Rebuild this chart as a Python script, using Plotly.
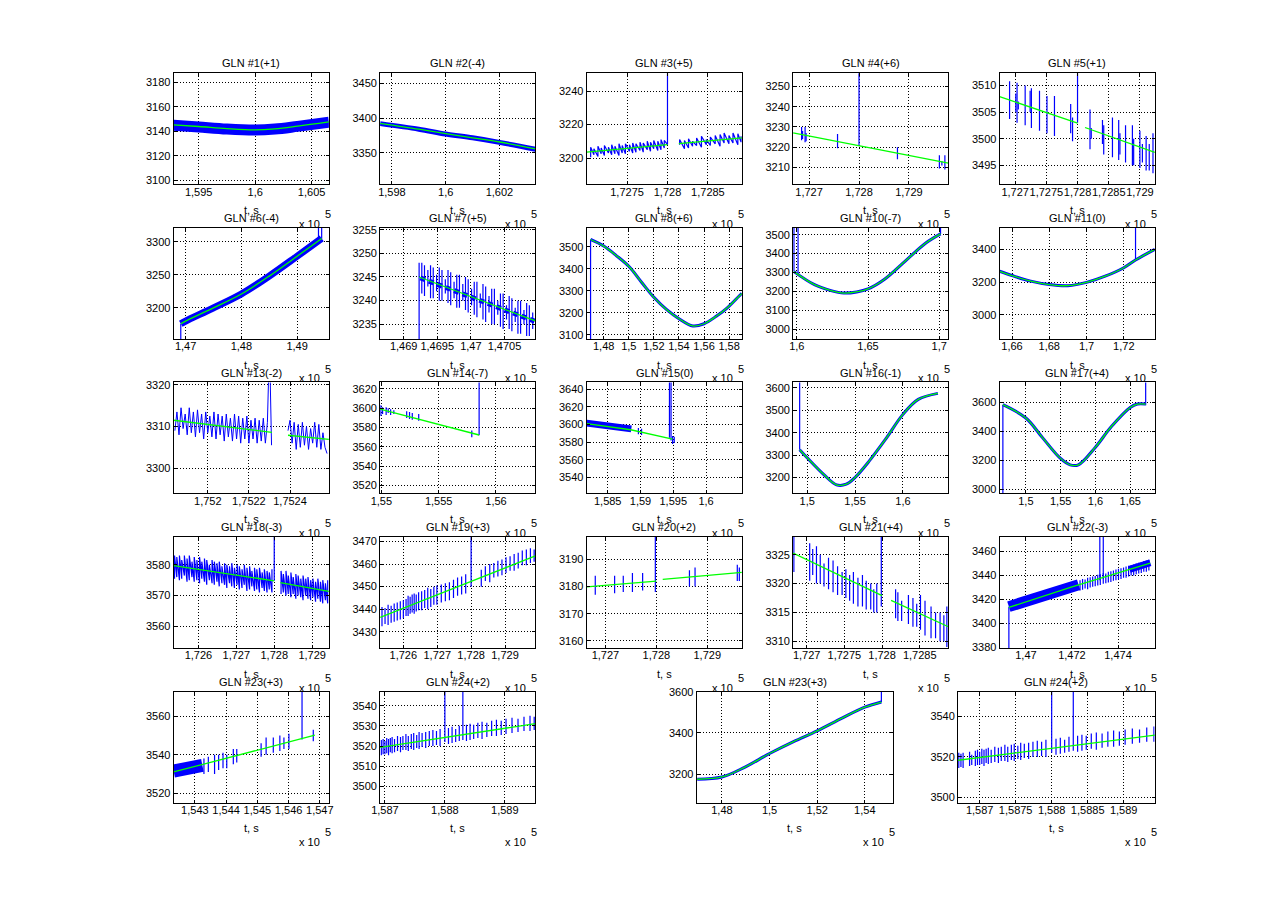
import plotly.graph_objects as go

# GLONASS pseudo-range style residual panels, t in seconds

BLUE = "#0000ff"
GREEN = "#00ff00"
FONT = "Liberation Sans"
PAGE_W, PAGE_H = 1280, 906
BODY_MARGIN = 8            # browser default body margin around the plot div
W, H = PAGE_W - 2 * BODY_MARGIN, PAGE_H - 2 * BODY_MARGIN

TITLES = ["GLN #1(+1)", "GLN #2(-4)", "GLN #3(+5)", "GLN #4(+6)", "GLN #5(+1)",
          "GLN #6(-4)", "GLN #7(+5)", "GLN #8(+6)", "GLN #10(-7)", "GLN #11(0)",
          "GLN #13(-2)", "GLN #14(-7)", "GLN #15(0)", "GLN #16(-1)", "GLN #17(+4)",
          "GLN #18(-3)", "GLN #19(+3)", "GLN #20(+2)", "GLN #21(+4)", "GLN #22(-3)",
          "GLN #23(+3)", "GLN #24(+2)", "GLN #23(+3)", "GLN #24(+2)"]

# ---- GLN #1(+1)
P1_XR = [159278, 160653]
P1_XT = [159500, 160000, 160500]
P1_YR = [3096.5, 3187.5]
P1_YT = [3100, 3120, 3140, 3160, 3180]
P1_OBS_T = [159278, 159500, 159750, 160000, 160175, 160375, 160653]
P1_OBS_Y = [3145.0, 3143.5, 3141.8, 3141.0, 3141.8, 3144.0, 3147.4]
P1_FIT_T = [159278, 159500, 159750, 160000, 160175, 160375, 160653]
P1_FIT_Y = [3145.2, 3143.9, 3142.2, 3141.2, 3142.0, 3144.2, 3147.7]

# ---- GLN #2(-4)
P2_XR = [159756, 160334]
P2_XT = [159800, 160000, 160200]
P2_YR = [3304.4, 3464.6]
P2_YT = [3350, 3400, 3450]
P2_OBS_T = [159756, 159900, 160000, 160100, 160200, 160334]
P2_OBS_Y = [3392.0, 3384.0, 3377.0, 3371.5, 3365.0, 3355.0]
P2_FIT_T = [159756, 159900, 160000, 160100, 160200, 160334]
P2_FIT_Y = [3392.5, 3384.0, 3377.5, 3371.5, 3365.5, 3355.6]

# ---- GLN #3(+5)
P3_XR = [172700, 172892]
P3_XT = [172750, 172800, 172850]
P3_YR = [3184.3, 3250.6]
P3_YT = [3200, 3220, 3240]
P3_Z1_T = [172705, 172709, 172714, 172718, 172722, 172727, 172731, 172735, 172740, 172744, 172748,
           172753, 172757, 172761, 172766, 172770, 172775, 172779, 172783, 172788, 172792, 172796, 172800]
P3_Z1_LO = [3200.5, 3202, 3201, 3202.5, 3201.5, 3203, 3202, 3202.5, 3201.5, 3203, 3202.5,
            3204, 3203, 3203.5, 3204.5, 3203.5, 3205, 3204, 3205.5, 3204.5, 3205, 3206, 3208]
P3_Z1_HI = [3206.5, 3205.5, 3207, 3206, 3207.5, 3206.5, 3208, 3207, 3208.5, 3207.5, 3208.5,
            3208, 3209, 3208.5, 3209.5, 3209, 3210, 3209.5, 3210.5, 3210, 3211, 3210.5, 3260]
P3_Z2_T = [172815, 172821, 172826, 172831, 172836, 172842, 172848, 172853, 172859, 172865, 172870,
           172876, 172881, 172887, 172891]
P3_Z2_LO = [3208, 3205.5, 3206, 3207, 3207.5, 3206.5, 3208, 3207.5, 3208.5, 3207, 3209, 3208.5, 3209, 3208, 3209.5]
P3_Z2_HI = [3211, 3210.5, 3211.5, 3210, 3212, 3213, 3211, 3212.5, 3213.5, 3214, 3215, 3213.5, 3215, 3214.5, 3213]
P3_FIT_T = [172700, 172800, None, 172814, 172892]
P3_FIT_Y = [3203.5, 3208.0, None, 3208.6, 3212.1]

# ---- GLN #4(+6)
P4_XR = [172668, 172979]
P4_XT = [172700, 172800, 172900]
P4_YR = [3201.6, 3256.6]
P4_YT = [3210, 3220, 3230, 3240, 3250]
P4_SPK_T = [172685, 172687, 172692, 172694, 172757, 172800, 172877, 172961, 172966, 172972]
P4_SPK_LO = [3223.5, 3224, 3222.5, 3223, 3219.5, 3221, 3214, 3209.5, 3211, 3209]
P4_SPK_HI = [3230, 3228, 3230, 3227, 3226.5, 3300, 3220, 3216, 3213, 3216]
P4_FIT_T = [172668, 172979]
P4_FIT_Y = [3227.1, 3212.1]

# ---- GLN #5(+1)
P5_XR = [172675, 172924]
P5_XT = [172700, 172750, 172800, 172850, 172900]
P5_YR = [3491.4, 3512.3]
P5_YT = [3495, 3500, 3505, 3510]
P5_SPK_T = [172691, 172701, 172703, 172705, 172716, 172724, 172726, 172739, 172751, 172763, 172789,
            172792, 172800, 172820, 172822, 172840, 172842, 172856, 172866, 172868, 172877, 172888,
            172890, 172900, 172904, 172910, 172915, 172921]
P5_SPK_LO = [3503.7, 3505, 3503, 3505.5, 3502.5, 3505, 3502, 3501.5, 3501, 3500.5, 3501,
             3499.5, 3503, 3498, 3500, 3499, 3497, 3496.5, 3496, 3497, 3495.5, 3495,
             3495, 3494.5, 3495.5, 3494, 3494, 3493.5]
P5_SPK_HI = [3510.8, 3508.5, 3510.5, 3507, 3510, 3509, 3509.5, 3509, 3508, 3508, 3506.5,
             3504, 3515, 3505.5, 3502, 3503.5, 3502.5, 3504, 3503.5, 3501, 3502.5, 3502.5,
             3500, 3501.5, 3499, 3500.5, 3499, 3501]
P5_FIT_T = [172675, 172800, None, 172812, 172924]
P5_FIT_Y = [3507.9, 3502.9, None, 3502.1, 3497.4]

# ---- GLN #6(-4)
P6_XR = [146785, 149571]
P6_XT = [147000, 148000, 149000]
P6_YR = [3153, 3321]
P6_YT = [3200, 3250, 3300]
P6_FIT_T = [146913, 147000, 147500, 148000, 148500, 149000, 149441]
P6_FIT_Y = [3176, 3180, 3200, 3221, 3248, 3278, 3305]
P6_SPK_T = [146913, 149384, 149441]
P6_SPK_LO = [3140, 3300, 3304]
P6_SPK_HI = [3176, 3340, 3340]

# ---- GLN #7(+5)
P7_XR = [146865, 147096]
P7_XT = [146900, 146950, 147000, 147050]
P7_YR = [3231.9, 3255.4]
P7_YT = [3235, 3240, 3245, 3250, 3255]
P7_SPK_T = [146923, 146927, 146931, 146936, 146940, 146944, 146949, 146953, 146957, 146962, 146966,
            146970, 146975, 146979, 146983, 146988, 146992, 146996, 147001, 147005, 147009, 147014,
            147018, 147022, 147027, 147031, 147035, 147040, 147044, 147048, 147053, 147057, 147061,
            147066, 147070, 147074, 147079, 147083, 147087, 147092]
P7_SPK_LO = [3225.0, 3241.5, 3241.0, 3243.0, 3240.5, 3240.5, 3242.0, 3240.0, 3240.0, 3241.5, 3239.5,
             3239.0, 3240.5, 3238.5, 3238.5, 3240.0, 3238.0, 3237.5, 3239.0, 3237.0, 3236.5, 3238.5,
             3236.0, 3235.5, 3237.5, 3235.0, 3235.0, 3237.0, 3234.5, 3234.0, 3236.0, 3234.0, 3233.5,
             3235.5, 3233.0, 3233.0, 3235.0, 3232.5, 3232.5, 3234.0]
P7_SPK_HI = [3248.0, 3248.0, 3247.5, 3246.5, 3247.5, 3247.0, 3245.5, 3247.0, 3246.5, 3244.5, 3246.5,
             3246.0, 3244.0, 3245.5, 3245.5, 3243.5, 3245.0, 3244.5, 3242.5, 3244.0, 3244.0, 3241.5,
             3243.5, 3243.0, 3241.0, 3242.5, 3242.5, 3240.0, 3241.5, 3241.5, 3239.0, 3241.0, 3240.5,
             3238.5, 3240.0, 3240.0, 3238.0, 3239.5, 3239.0, 3237.5]
P7_OBS_T = [146925, 147096]
P7_OBS_Y = [3244.8, 3235.6]
P7_FIT_T = [146923, 147096]
P7_FIT_Y = [3245.0, 3235.7]

# ---- GLN #8(+6)
P8_XR = [146638, 159017]
P8_XT = [148000, 150000, 152000, 154000, 156000, 158000]
P8_YR = [3081, 3586]
P8_YT = [3100, 3200, 3300, 3400, 3500]
P8_FIT_T = [146953, 148000, 149000, 150000, 151000, 152000, 153000, 154000, 155100, 156000, 157000,
            157900, 158800, 159017]
P8_FIT_Y = [3533, 3503, 3460, 3411, 3340, 3270, 3215, 3173, 3140, 3150, 3185, 3225, 3276, 3288]
P8_SPK_T = [146953]
P8_SPK_LO = [3050]
P8_SPK_HI = [3533]

# ---- GLN #10(-7)
P10_XR = [159740, 170640]
P10_XT = [160000, 165000, 170000]
P10_YR = [2950, 3536]
P10_YT = [3000, 3100, 3200, 3300, 3400, 3500]
P10_FIT_T = [159800, 161240, 162400, 163300, 164200, 165000, 166160, 167630, 169080, 170090]
P10_FIT_Y = [3305, 3236, 3205, 3192, 3198, 3214, 3265, 3362, 3457, 3504]
P10_SPK_T = [159800, 160087, 170090]
P10_SPK_LO = [3305, 3296, 3504]
P10_SPK_HI = [3700, 3700, 3700]

# ---- GLN #11(0)
P11_XR = [165333, 173667]
P11_XT = [166000, 168000, 170000, 172000]
P11_YR = [2852, 3532]
P11_YT = [3000, 3200, 3400]
P11_FIT_T = [165333, 166000, 167000, 168000, 169000, 170000, 171000, 172000, 172630, 173667]
P11_FIT_Y = [3266, 3240, 3206, 3185, 3178, 3198, 3236, 3288, 3335, 3400]
P11_SPK_T = [172630]
P11_SPK_LO = [3335]
P11_SPK_HI = [3700]

# ---- GLN #13(-2)
P13_XR = [175183.4, 175258.9]
P13_XT = [175200, 175220, 175240]
P13_YR = [3293.9, 3320.6]
P13_YT = [3300, 3310, 3320]
P13_RAW1_T = [175184, 175185, 175186, 175187, 175188, 175189, 175190, 175191, 175192, 175193, 175194,
              175195, 175196, 175197, 175198, 175199, 175200, 175201, 175202, 175203, 175204, 175205,
              175206, 175207, 175208, 175209, 175210, 175211, 175212, 175213, 175214, 175215, 175216,
              175217, 175218, 175219, 175220, 175221, 175222, 175223, 175224, 175225, 175226, 175227,
              175228, 175229, 175230, 175231]
P13_RAW1_Y = [3309.0, 3313.5, 3308.0, 3314.5, 3309.5, 3313.0, 3308.0, 3314.5, 3308.5, 3313.5, 3307.5,
              3314.0, 3308.5, 3313.0, 3307.0, 3313.5, 3308.5, 3312.5, 3307.5, 3313.5, 3307.0, 3313.0,
              3308.0, 3312.5, 3306.5, 3313.0, 3307.5, 3312.0, 3306.5, 3313.0, 3307.0, 3312.5, 3306.0,
              3312.0, 3307.0, 3312.5, 3306.0, 3311.5, 3307.0, 3312.0, 3306.0, 3311.5, 3306.5, 3312.0,
              3306.0, 3311.0, 3330.0, 3305.5]
P13_RAW2_T = [175239, 175240, 175241, 175242, 175243, 175244, 175245, 175246, 175247, 175248, 175249,
              175250, 175251, 175252, 175253, 175254, 175255, 175256, 175257, 175258]
P13_RAW2_Y = [3309.0, 3311.5, 3306.0, 3311.0, 3304.5, 3310.5, 3305.0, 3311.0, 3305.5, 3310.0, 3304.5,
              3309.5, 3306.0, 3311.0, 3305.0, 3310.5, 3304.5, 3308.5, 3305.0, 3303.5]
P13_FIT_T = [175183.4, 175231.2, None, 175239.0, 175258.9]
P13_FIT_Y = [3311.5, 3308.6, None, 3307.9, 3306.9]

# ---- GLN #14(-7)
P14_XR = [154989.5, 156343.9]
P14_XT = [155000, 155500, 156000]
P14_YR = [3511.7, 3626.8]
P14_YT = [3520, 3540, 3560, 3580, 3600, 3620]
P14_SPK_T = [154996, 155011, 155042, 155060, 155081, 155109, 155221, 155246, 155270, 155326, 155789, 155853]
P14_SPK_LO = [3592, 3594, 3593, 3595, 3593, 3594, 3590, 3589, 3588, 3587, 3570, 3572]
P14_SPK_HI = [3603, 3601, 3601, 3600, 3599, 3598, 3597, 3596, 3595, 3594, 3577, 3700]
P14_FIT_T = [154989.5, 155852.6]
P14_FIT_Y = [3599.0, 3572.3]

# ---- GLN #15(0)
P15_XR = [158178, 160547]
P15_XT = [158500, 159000, 159500, 160000]
P15_YR = [3522, 3647.5]
P15_YT = [3540, 3560, 3580, 3600, 3620, 3640]
P15_OBS_T = [158178, 158860]
P15_OBS_Y = [3601.5, 3595.0]
P15_SPK_T = [158968, 159016, 159442, 159466, 159490, 159515]
P15_SPK_LO = [3589, 3588, 3585, 3582, 3578, 3579]
P15_SPK_HI = [3596, 3595, 3700, 3700, 3587, 3586]
P15_FIT_T = [158178, 158850, 159488]
P15_FIT_Y = [3601.0, 3594.0, 3583.4]

# ---- GLN #16(-1)
P16_XR = [148532, 164744]
P16_XT = [150000, 155000, 160000]
P16_YR = [3128.4, 3625]
P16_YT = [3200, 3300, 3400, 3500, 3600]
P16_FIT_T = [149215, 150000, 151710, 153070, 154080, 155000, 156470, 158170, 160000, 161600, 163650]
P16_FIT_Y = [3324, 3288, 3214, 3167, 3170, 3200, 3273, 3370, 3482, 3549, 3576]
P16_SPK_T = [149215]
P16_SPK_LO = [3324]
P16_SPK_HI = [3700]

# ---- GLN #17(+4)
P17_XR = [146226, 168538]
P17_XT = [150000, 155000, 160000, 165000]
P17_YR = [2970, 3738]
P17_YT = [3000, 3200, 3400, 3600]
P17_FIT_T = [146698, 150000, 152358, 154858, 156368, 157547, 160000, 162264, 165000, 166038, 167217]
P17_FIT_Y = [3584, 3492, 3358, 3218, 3168, 3168, 3290, 3431, 3565, 3588, 3588]
P17_SPK_T = [146698, 167217]
P17_SPK_LO = [2900, 3580]
P17_SPK_HI = [3584, 3800]

# ---- GLN #18(-3)
P18_XR = [172534.7, 172944.2]
P18_XT = [172600, 172700, 172800, 172900]
P18_YR = [3553, 3589]
P18_YT = [3560, 3570, 3580]
P18_Z1_T = [172537, 172543, 172550, 172556, 172563, 172570, 172576, 172583, 172589, 172596, 172603,
            172609, 172616, 172622, 172629, 172636, 172642, 172649, 172655, 172662, 172669, 172675,
            172682, 172688, 172695, 172702, 172708, 172715, 172721, 172728, 172735, 172741, 172748,
            172754, 172761, 172768, 172774, 172781, 172787, 172794]
P18_Z1_LO = [3575.5, 3576.0, 3575.0, 3575.5, 3576.5, 3574.5, 3575.0, 3576.0, 3574.5, 3575.0, 3574.0,
             3575.5, 3574.5, 3573.5, 3575.0, 3574.0, 3573.5, 3574.5, 3573.0, 3574.0, 3573.5, 3572.5,
             3574.0, 3573.0, 3572.5, 3573.5, 3572.0, 3572.5, 3573.5, 3571.5, 3572.0, 3573.0, 3571.5,
             3572.0, 3571.0, 3572.5, 3571.5, 3571.0, 3572.0, 3571.0]
P18_Z1_HI = [3583.0, 3582.5, 3583.0, 3581.5, 3583.0, 3582.0, 3583.0, 3581.0, 3582.5, 3581.5, 3582.5,
             3581.0, 3582.0, 3581.5, 3580.0, 3581.5, 3581.0, 3580.5, 3581.0, 3579.5, 3580.5, 3580.0,
             3579.5, 3580.5, 3579.0, 3580.0, 3579.5, 3578.5, 3580.0, 3579.0, 3579.5, 3578.0, 3579.0,
             3578.5, 3579.0, 3577.5, 3578.5, 3578.0, 3577.5, 3578.5]
P18_Z2_T = [172818, 172824, 172831, 172837, 172844, 172850, 172857, 172863, 172870, 172876, 172883,
            172889, 172896, 172902, 172909, 172915, 172922, 172928, 172935, 172941]
P18_Z2_LO = [3570.5, 3571.0, 3570.0, 3570.5, 3569.5, 3570.5, 3569.0, 3570.0, 3569.5, 3568.5, 3570.0,
             3569.0, 3568.5, 3569.5, 3568.0, 3569.0, 3568.0, 3567.5, 3568.5, 3567.5]
P18_Z2_HI = [3578.0, 3577.0, 3578.0, 3576.5, 3577.5, 3576.0, 3577.0, 3576.5, 3575.5, 3576.5, 3575.5,
             3576.0, 3575.0, 3575.5, 3574.5, 3575.5, 3574.5, 3575.0, 3574.0, 3575.0]
P18_SPK_T = [172800]
P18_SPK_LO = [3574.8]
P18_SPK_HI = [3600]
P18_FIT_T = [172534.7, 172800, None, 172816, 172944.2]
P18_FIT_Y = [3579.7, 3574.8, None, 3574.2, 3571.4]

# ---- GLN #19(+3)
P19_XR = [172531.5, 172989.7]
P19_XT = [172600, 172700, 172800, 172900]
P19_YR = [3422.8, 3472]
P19_YT = [3430, 3440, 3450, 3460, 3470]
P19_SPK_T = [172537, 172546, 172555, 172564, 172573, 172582, 172591, 172600, 172608, 172614, 172620,
             172626, 172632, 172638, 172645, 172654, 172663, 172672, 172681, 172690, 172699, 172712,
             172724, 172736, 172748, 172760, 172772, 172784, 172800, 172830, 172842, 172855, 172867,
             172879, 172891, 172903, 172915, 172927, 172939, 172951, 172963, 172975, 172986]
P19_SPK_LO = [3432.5, 3433.5, 3433.0, 3434.0, 3434.5, 3435.0, 3435.5, 3436.0, 3437.0, 3437.0, 3438.0,
              3438.5, 3438.0, 3439.0, 3439.5, 3439.5, 3440.5, 3440.0, 3441.0, 3442.0, 3442.0, 3443.0,
              3443.5, 3444.0, 3445.0, 3446.0, 3446.5, 3447.0, 3450.0, 3450.0, 3452.5, 3452.0, 3454.0,
              3454.5, 3455.0, 3456.0, 3457.0, 3457.0, 3458.0, 3459.5, 3459.5, 3460.5, 3461.0]
P19_SPK_HI = [3441.0, 3440.5, 3442.0, 3441.5, 3442.5, 3443.0, 3443.5, 3444.0, 3444.5, 3446.0, 3445.5,
              3446.5, 3447.0, 3446.5, 3447.5, 3448.0, 3448.5, 3449.5, 3449.0, 3450.0, 3450.5, 3451.0,
              3451.5, 3452.0, 3453.0, 3454.0, 3454.5, 3455.5, 3475.0, 3457.5, 3459.0, 3460.0, 3460.5,
              3461.5, 3462.0, 3463.0, 3463.5, 3464.5, 3465.0, 3466.0, 3466.5, 3467.0, 3466.5]
P19_FIT_T = [172531.5, 172989.7]
P19_FIT_Y = [3436.4, 3463.6]

# ---- GLN #20(+2)
P20_XR = [172663, 172968]
P20_XT = [172700, 172800, 172900]
P20_YR = [3157.4, 3198.2]
P20_YT = [3160, 3170, 3180, 3190]
P20_SPK_T = [172680, 172718, 172735, 172753, 172773, 172798, 172865, 172876, 172959, 172963]
P20_SPK_LO = [3177, 3177.5, 3178, 3178, 3178.5, 3178, 3180, 3180, 3182, 3182]
P20_SPK_HI = [3184, 3184, 3184, 3185, 3185, 3210, 3186, 3187, 3188, 3187]
P20_FIT_T = [172663, 172800, None, 172812.5, 172968]
P20_FIT_Y = [3179.9, 3182.0, None, 3182.6, 3185.2]

# ---- GLN #21(+4)
P21_XR = [172682, 172888]
P21_XT = [172700, 172750, 172800, 172850]
P21_YR = [3308.8, 3328.1]
P21_YT = [3310, 3315, 3320, 3325]
P21_SPK_T = [172683, 172704, 172708, 172713, 172718, 172723, 172729, 172735, 172741, 172747, 172752,
             172757, 172762, 172768, 172774, 172779, 172785, 172789, 172793, 172799, 172818, 172821,
             172826, 172835, 172841, 172846, 172851, 172857, 172865, 172871, 172877, 172882, 172886]
P21_SPK_LO = [3322, 3320.5, 3321.5, 3320, 3320, 3319.5, 3319, 3318.5, 3318, 3318, 3317.5,
              3317, 3316.5, 3316, 3316, 3315.5, 3315.5, 3315, 3315, 3316, 3314, 3313.5,
              3313.5, 3313, 3312.5, 3312.5, 3312, 3311, 3310.5, 3310.5, 3310, 3310, 3309]
P21_SPK_HI = [3330, 3327, 3326, 3326.5, 3325, 3323.5, 3324.5, 3324, 3323, 3322, 3322.5,
              3321.5, 3322, 3321, 3321.5, 3320.5, 3320, 3319, 3320, 3330, 3319, 3318.5,
              3317, 3318, 3317.5, 3316.5, 3318, 3317, 3316, 3315, 3315, 3314.5, 3316]
P21_FIT_T = [172682, 172800, None, 172812, 172888]
P21_FIT_Y = [3325.3, 3317.9, None, 3317.1, 3312.5]

# ---- GLN #22(-3)
P22_XR = [146885.7, 147560]
P22_XT = [147000, 147200, 147400]
P22_YR = [3379.5, 3472]
P22_YT = [3380, 3400, 3420, 3440, 3460]
P22_OBS1_T = [146926, 147100, 147200, 147229]
P22_OBS1_Y = [3414.0, 3424.5, 3430.5, 3432.3]
P22_OBS2_T = [147450, 147540]
P22_OBS2_Y = [3445.0, 3450.5]
P22_SPK_T = [147235, 147246, 147257, 147268, 147279, 147290, 147301, 147312, 147323, 147336, 147347,
             147358, 147369, 147380, 147391, 147402, 147413, 147424, 147435, 147446, 147457, 147468,
             147479, 147490, 147501, 147512, 147523, 147534, 146926, 147321, 147336]
P22_SPK_LO = [3427.5, 3428, 3429, 3428.5, 3430, 3430.5, 3431, 3431.5, 3432, 3433, 3433.5,
              3434, 3434.5, 3435.5, 3436, 3436.5, 3437, 3438, 3438, 3439, 3440, 3440,
              3441, 3441.5, 3442, 3443, 3443, 3444, 3370, 3436, 3437]
P22_SPK_HI = [3436, 3437, 3436.5, 3438, 3438.5, 3439, 3439.5, 3440.5, 3441, 3442, 3441.5,
              3443, 3443.5, 3444, 3445, 3445.5, 3446, 3446.5, 3447.5, 3448, 3448.5, 3449,
              3450, 3450.5, 3451, 3452, 3452.5, 3453, 3414, 3480, 3480]
P22_FIT_T = [146925.7, 147200, 147540]
P22_FIT_Y = [3413.3, 3430.5, 3450.3]

# ---- GLN #23(+3), short span
P23_XR = [154232, 154729]
P23_XT = [154300, 154400, 154500, 154600, 154700]
P23_YR = [3515, 3573]
P23_YT = [3520, 3540, 3560]
P23_OBS_T = [154232, 154324]
P23_OBS_Y = [3531.5, 3534.5]
P23_SPK_T = [154329, 154343, 154363, 154376, 154390, 154402, 154423, 154434, 154512, 154528, 154551,
             154572, 154585, 154601, 154643, 154679]
P23_SPK_LO = [3530, 3531, 3530, 3532, 3533, 3533, 3535, 3536, 3539, 3540, 3541, 3542, 3543, 3543, 3548, 3547]
P23_SPK_HI = [3538, 3539, 3540, 3540, 3541, 3540, 3543, 3543, 3546, 3549, 3549, 3550, 3549, 3551, 3580, 3553]
P23_FIT_T = [154232, 154684]
P23_FIT_Y = [3531.0, 3550.2]

# ---- GLN #24(+2), shared by both #24 panels
P24_XR = [158692, 158951]
P24_XT = [158700, 158800, 158900]
P24_YR = [3492, 3547]
P24_YT = [3500, 3510, 3520, 3530, 3540]
GLN24_SPK_T = [158671, 158674, 158677, 158686, 158689,
               158694, 158697, 158700, 158703, 158706, 158709, 158712, 158716, 158721, 158726, 158730,
               158735, 158739, 158744, 158748, 158753, 158757, 158762, 158768, 158774, 158780, 158786,
               158792, 158800, 158806, 158812, 158818, 158824, 158830, 158836, 158842, 158848, 158855,
               158862, 158870, 158878, 158886, 158894, 158902, 158912, 158922, 158932, 158942, 158949]
GLN24_SPK_LO = [3514.5, 3515, 3514.5, 3515.5, 3516,
                3515.5, 3516, 3516, 3516.5, 3515.5, 3517, 3516.5, 3517, 3517.5, 3517, 3518,
                3518, 3517.5, 3518.5, 3518, 3519, 3518.5, 3519.5, 3519, 3520, 3520, 3520.5,
                3520, 3522, 3521, 3521.5, 3522, 3522.5, 3523, 3522.5, 3523, 3523.5, 3524,
                3523.5, 3524.5, 3525, 3525, 3525.5, 3526, 3526.5, 3527, 3527.5, 3527.5, 3528]
GLN24_SPK_HI = [3522, 3521.5, 3522, 3522.5, 3521,
                3523, 3523.5, 3522.5, 3524, 3523.5, 3524, 3524.5, 3523.5, 3525, 3524.5, 3525,
                3526, 3525, 3526, 3526.5, 3525.5, 3527, 3526.5, 3527, 3527.5, 3528, 3527.5,
                3528.5, 3560, 3529, 3529.5, 3528.5, 3530, 3560, 3530.5, 3531, 3530.5, 3531.5,
                3532, 3531.5, 3532.5, 3533, 3532.5, 3533.5, 3534, 3533.5, 3534.5, 3535, 3534.5]
GLN24_FIT_T = [158669, 158951]
GLN24_FIT_Y = [3518.3, 3531.1]

# ---- GLN #23(+3), full pass
P25_XR = [146936, 155191]
P25_XT = [148000, 150000, 152000, 154000]
P25_YR = [3061.5, 3601]
P25_YT = [3200, 3400, 3600]
P25_FIT_T = [146964, 148000, 148950, 150000, 151007, 152000, 153064, 154000, 154695]
P25_FIT_Y = [3175, 3186, 3233, 3300, 3358, 3410, 3473, 3525, 3550]
P25_SPK_T = [154695]
P25_SPK_LO = [3550]
P25_SPK_HI = [3650]

# ---- GLN #24(+2), wider axes
P26_XR = [158670, 158943]
P26_XT = [158700, 158750, 158800, 158850, 158900]
P26_YR = [3497.4, 3552.3]
P26_YT = [3500, 3520, 3540]


PANELS = [
    dict(xr=P1_XR, xt=P1_XT, yr=P1_YR, yt=P1_YT, band=[(P1_OBS_T, P1_OBS_Y, 11, None)],
         fit=(P1_FIT_T, P1_FIT_Y), smooth=True),
    dict(xr=P2_XR, xt=P2_XT, yr=P2_YR, yt=P2_YT, band=[(P2_OBS_T, P2_OBS_Y, 5, None)],
         fit=(P2_FIT_T, P2_FIT_Y), smooth=True),
    dict(xr=P3_XR, xt=P3_XT, yr=P3_YR, yt=P3_YT,
         zig=[(P3_Z1_T, P3_Z1_LO, P3_Z1_HI), (P3_Z2_T, P3_Z2_LO, P3_Z2_HI)],
         fit=(P3_FIT_T, P3_FIT_Y)),
    dict(xr=P4_XR, xt=P4_XT, yr=P4_YR, yt=P4_YT, spk=(P4_SPK_T, P4_SPK_LO, P4_SPK_HI),
         fit=(P4_FIT_T, P4_FIT_Y)),
    dict(xr=P5_XR, xt=P5_XT, yr=P5_YR, yt=P5_YT, spk=(P5_SPK_T, P5_SPK_LO, P5_SPK_HI),
         fit=(P5_FIT_T, P5_FIT_Y)),
    dict(xr=P6_XR, xt=P6_XT, yr=P6_YR, yt=P6_YT, band=[(P6_FIT_T, P6_FIT_Y, 7, None)],
         spk=(P6_SPK_T, P6_SPK_LO, P6_SPK_HI), fit=(P6_FIT_T, P6_FIT_Y), smooth=True),
    dict(xr=P7_XR, xt=P7_XT, yr=P7_YR, yt=P7_YT, band=[(P7_OBS_T, P7_OBS_Y, 5, "5px,4px")],
         spk=(P7_SPK_T, P7_SPK_LO, P7_SPK_HI), fit=(P7_FIT_T, P7_FIT_Y)),
    dict(xr=P8_XR, xt=P8_XT, yr=P8_YR, yt=P8_YT, band=[(P8_FIT_T, P8_FIT_Y, 3, None)],
         spk=(P8_SPK_T, P8_SPK_LO, P8_SPK_HI), fit=(P8_FIT_T, P8_FIT_Y), smooth=True),
    dict(xr=P10_XR, xt=P10_XT, yr=P10_YR, yt=P10_YT, band=[(P10_FIT_T, P10_FIT_Y, 3, None)],
         spk=(P10_SPK_T, P10_SPK_LO, P10_SPK_HI), fit=(P10_FIT_T, P10_FIT_Y), smooth=True),
    dict(xr=P11_XR, xt=P11_XT, yr=P11_YR, yt=P11_YT, band=[(P11_FIT_T, P11_FIT_Y, 3, None)],
         spk=(P11_SPK_T, P11_SPK_LO, P11_SPK_HI), fit=(P11_FIT_T, P11_FIT_Y), smooth=True),
    dict(xr=P13_XR, xt=P13_XT, yr=P13_YR, yt=P13_YT,
         raw=[(P13_RAW1_T, P13_RAW1_Y), (P13_RAW2_T, P13_RAW2_Y)], fit=(P13_FIT_T, P13_FIT_Y)),
    dict(xr=P14_XR, xt=P14_XT, yr=P14_YR, yt=P14_YT, spk=(P14_SPK_T, P14_SPK_LO, P14_SPK_HI),
         fit=(P14_FIT_T, P14_FIT_Y)),
    dict(xr=P15_XR, xt=P15_XT, yr=P15_YR, yt=P15_YT, band=[(P15_OBS_T, P15_OBS_Y, 7, None)],
         spk=(P15_SPK_T, P15_SPK_LO, P15_SPK_HI), fit=(P15_FIT_T, P15_FIT_Y)),
    dict(xr=P16_XR, xt=P16_XT, yr=P16_YR, yt=P16_YT, band=[(P16_FIT_T, P16_FIT_Y, 3, None)],
         spk=(P16_SPK_T, P16_SPK_LO, P16_SPK_HI), fit=(P16_FIT_T, P16_FIT_Y), smooth=True),
    dict(xr=P17_XR, xt=P17_XT, yr=P17_YR, yt=P17_YT, band=[(P17_FIT_T, P17_FIT_Y, 3, None)],
         spk=(P17_SPK_T, P17_SPK_LO, P17_SPK_HI), fit=(P17_FIT_T, P17_FIT_Y), smooth=True),
    dict(xr=P18_XR, xt=P18_XT, yr=P18_YR, yt=P18_YT,
         zig=[(P18_Z1_T, P18_Z1_LO, P18_Z1_HI), (P18_Z2_T, P18_Z2_LO, P18_Z2_HI)],
         spk=(P18_SPK_T, P18_SPK_LO, P18_SPK_HI), fit=(P18_FIT_T, P18_FIT_Y)),
    dict(xr=P19_XR, xt=P19_XT, yr=P19_YR, yt=P19_YT, spk=(P19_SPK_T, P19_SPK_LO, P19_SPK_HI),
         fit=(P19_FIT_T, P19_FIT_Y)),
    dict(xr=P20_XR, xt=P20_XT, yr=P20_YR, yt=P20_YT, spk=(P20_SPK_T, P20_SPK_LO, P20_SPK_HI),
         fit=(P20_FIT_T, P20_FIT_Y)),
    dict(xr=P21_XR, xt=P21_XT, yr=P21_YR, yt=P21_YT, spk=(P21_SPK_T, P21_SPK_LO, P21_SPK_HI),
         fit=(P21_FIT_T, P21_FIT_Y)),
    dict(xr=P22_XR, xt=P22_XT, yr=P22_YR, yt=P22_YT,
         band=[(P22_OBS1_T, P22_OBS1_Y, 11, None), (P22_OBS2_T, P22_OBS2_Y, 7, None)],
         spk=(P22_SPK_T, P22_SPK_LO, P22_SPK_HI), fit=(P22_FIT_T, P22_FIT_Y)),
    dict(xr=P23_XR, xt=P23_XT, yr=P23_YR, yt=P23_YT, band=[(P23_OBS_T, P23_OBS_Y, 13, None)],
         spk=(P23_SPK_T, P23_SPK_LO, P23_SPK_HI), fit=(P23_FIT_T, P23_FIT_Y)),
    dict(xr=P24_XR, xt=P24_XT, yr=P24_YR, yt=P24_YT, spk=(GLN24_SPK_T, GLN24_SPK_LO, GLN24_SPK_HI),
         fit=(GLN24_FIT_T, GLN24_FIT_Y)),
    dict(xr=P25_XR, xt=P25_XT, yr=P25_YR, yt=P25_YT, band=[(P25_FIT_T, P25_FIT_Y, 3, None)],
         spk=(P25_SPK_T, P25_SPK_LO, P25_SPK_HI), fit=(P25_FIT_T, P25_FIT_Y), smooth=True),
    dict(xr=P26_XR, xt=P26_XT, yr=P26_YR, yt=P26_YT, spk=(GLN24_SPK_T, GLN24_SPK_LO, GLN24_SPK_HI),
         fit=(GLN24_FIT_T, GLN24_FIT_Y)),
]


def panel_box(k):
    # page-pixel box (left, top, width, height); first 22 on a 5x5 grid, last two on a 5x4 grid
    if k < 22:
        r, c = divmod(k, 5)
        return 166.4 + 208.8 * c, 68 + 156.5 * r, 157, 112.5
    c = k - 20
    return 166.4 + 264.4 * c, 68 + 156.5 * 4, 198.8, 112.5


def fx(px):
    return (px - BODY_MARGIN) / W


def fy(py):
    return 1 - (py - BODY_MARGIN) / H


def tick_label(v):
    return f"{v / 1e5:.6g}".replace(".", ",")


def vertical_segments(t, lo, hi):
    xs, ys = [], []
    for a, b, c in zip(t, lo, hi):
        xs += [a, a, None]
        ys += [b, c, None]
    return xs, ys


def zigzag(parts):
    xs, ys = [], []
    for t, lo, hi in parts:
        if xs:
            xs.append(None)
            ys.append(None)
        for a, b, c in zip(t, lo, hi):
            xs += [a, a]
            ys += [b, c]
    return xs, ys


def joined(parts):
    xs, ys = [], []
    for t, y in parts:
        if xs:
            xs.append(None)
            ys.append(None)
        xs += list(t)
        ys += list(y)
    return xs, ys


fig = go.Figure()
layout = dict(width=W, height=H, margin=dict(l=0, r=0, t=0, b=0),
              paper_bgcolor="white", plot_bgcolor="white", showlegend=False,
              font=dict(family=FONT, size=11, color="black"))
annotations = []

axis_style = dict(showline=True, linecolor="black", linewidth=1, mirror="ticks",
                  ticks="inside", ticklen=3, tickcolor="black", tickangle=0,
                  showgrid=True, gridcolor="black", gridwidth=1, griddash="1px,2px",
                  zeroline=False, tickfont=dict(family=FONT, size=11, color="black"))

for k, p in enumerate(PANELS):
    n = k + 1
    sx = "" if n == 1 else str(n)
    left, top, w, h = panel_box(k)
    layout["xaxis" + sx] = dict(axis_style, domain=[fx(left), fx(left + w)], anchor="y" + sx,
                                range=p["xr"], tickvals=p["xt"], ticklabelstandoff=-3,
                                ticktext=[tick_label(v) for v in p["xt"]])
    layout["yaxis" + sx] = dict(axis_style, domain=[fy(top + h), fy(top)], anchor="x" + sx,
                                range=p["yr"], tickvals=p["yt"],
                                ticktext=[str(int(v)) for v in p["yt"]])
    ax = dict(xaxis="x" + sx, yaxis="y" + sx, mode="lines", hoverinfo="skip")
    shape = "spline" if p.get("smooth") else "linear"

    for t, y, width, dash in p.get("band", []):
        fig.add_trace(go.Scatter(x=t, y=y, line=dict(color=BLUE, width=width, dash=dash, shape=shape), **ax))
    if "raw" in p:
        xs, ys = joined(p["raw"])
        fig.add_trace(go.Scatter(x=xs, y=ys, line=dict(color=BLUE, width=1), **ax))
    if "zig" in p:
        xs, ys = zigzag(p["zig"])
        fig.add_trace(go.Scatter(x=xs, y=ys, line=dict(color=BLUE, width=1.2), **ax))
    if "spk" in p:
        xs, ys = vertical_segments(*p["spk"])
        fig.add_trace(go.Scatter(x=xs, y=ys, line=dict(color=BLUE, width=1.2), **ax))
    ft, fyv = p["fit"]
    fig.add_trace(go.Scatter(x=ft, y=fyv, line=dict(color=GREEN, width=1.3, shape=shape),
                             connectgaps=False, **ax))

    cx = fx(left + w / 2)
    bottom = top + h
    annotations += [
        dict(text=TITLES[k], x=cx, y=fy(top - 10), xanchor="center", yanchor="middle"),
        dict(text="t, s", x=cx, y=fy(bottom + 26), xanchor="center", yanchor="middle"),
        dict(text="x 10", x=fx(left + w - 7), y=fy(bottom + 40), xanchor="right", yanchor="middle"),
        dict(text="5", x=fx(left + w - 6), y=fy(bottom + 30), xanchor="left", yanchor="middle"),
    ]

for a in annotations:
    a.update(xref="paper", yref="paper", showarrow=False,
             font=dict(family=FONT, size=11, color="black"))
layout["annotations"] = annotations
fig.update_layout(**layout)

fig.write_html("out.html")
